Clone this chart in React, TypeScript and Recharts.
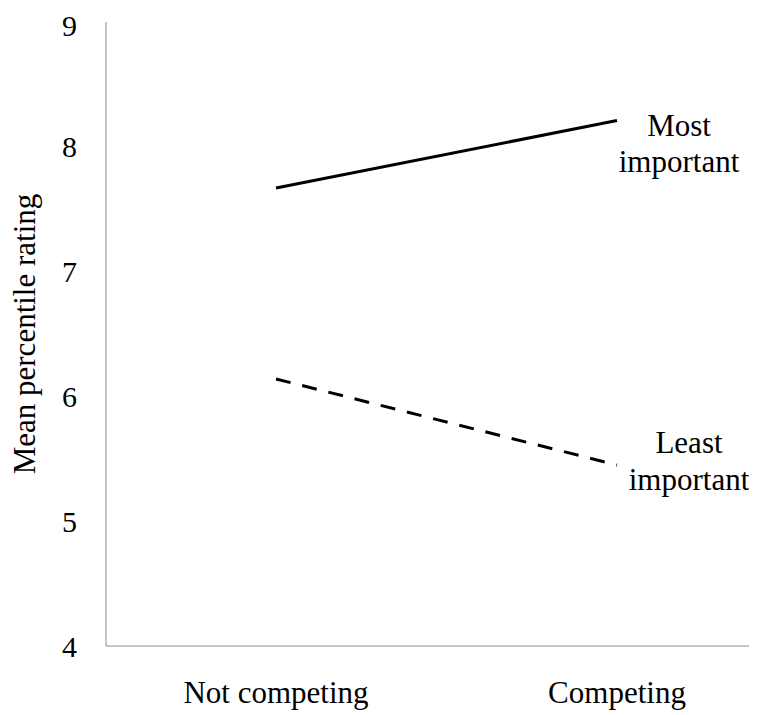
import React from "react";
import { Line, LineChart, XAxis, YAxis, Label } from "recharts";

const categories = ["Not competing", "Competing"];
const mostImportant = [7.67, 8.21];
const leastImportant = [6.14, 5.45];
const yTicks = [4, 5, 6, 7, 8, 9];

const data = categories.map((name, i) => ({
  name,
  most: mostImportant[i],
  least: leastImportant[i],
}));

const font = "'Liberation Serif', 'Times New Roman', serif";

// text beside the last point of a line, one word per row
function endLabel(rows: string[], dx: number, dys: number[]) {
  return (props: any) => {
    if (props.index !== categories.length - 1) return <g />;
    return (
      <g>
        {rows.map((r, i) => (
          <text
            key={r + i}
            x={props.x + dx}
            y={props.y + dys[i]}
            textAnchor="middle"
            fontSize={31}
            fontFamily={font}
            fill="#000"
          >
            {r}
          </text>
        ))}
      </g>
    );
  };
}

const yLabel = (props: any) => {
  const vb = props.viewBox;
  const cx = 27;
  const cy = vb.y + vb.height / 2;
  return (
    <text
      x={cx}
      y={cy}
      textAnchor="middle"
      fontSize={31}
      fontFamily={font}
      fill="#000"
      transform={`rotate(-90, ${cx}, ${cy})`}
    >
      Mean percentile rating
    </text>
  );
};

export default function App() {
  return (
    <div style={{ width: 749, height: 705, overflow: "hidden" }}>
      <LineChart
        width={780}
        height={705}
        data={data}
        margin={{ top: 14, right: 0, left: 0, bottom: 0 }}
      >
        <XAxis
          dataKey="name"
          height={67}
          padding={{ left: 170, right: 171 }}
          axisLine={{ stroke: "#8c8c8c" }}
          tickLine={false}
          tickSize={0}
          tickMargin={35}
          tick={{ fill: "#000", fontSize: 31, fontFamily: font }}
        />
        <YAxis
          width={98}
          domain={[4, 9]}
          ticks={yTicks}
          axisLine={{ stroke: "#8c8c8c" }}
          tickLine={false}
          tickSize={0}
          tickMargin={29}
          tick={{ fill: "#000", fontSize: 30, fontFamily: font }}
        >
          <Label content={yLabel} />
        </YAxis>
        <Line
          type="linear"
          dataKey="most"
          stroke="#000"
          strokeWidth={3}
          dot={false}
          isAnimationActive={false}
          label={endLabel(["Most", "important"], 62, [15, 51])}
        />
        <Line
          type="linear"
          dataKey="least"
          stroke="#000"
          strokeWidth={3}
          strokeDasharray="15 12"
          dot={false}
          isAnimationActive={false}
          label={endLabel(["Least", "important"], 72, [-12, 25])}
        />
      </LineChart>
    </div>
  );
}
